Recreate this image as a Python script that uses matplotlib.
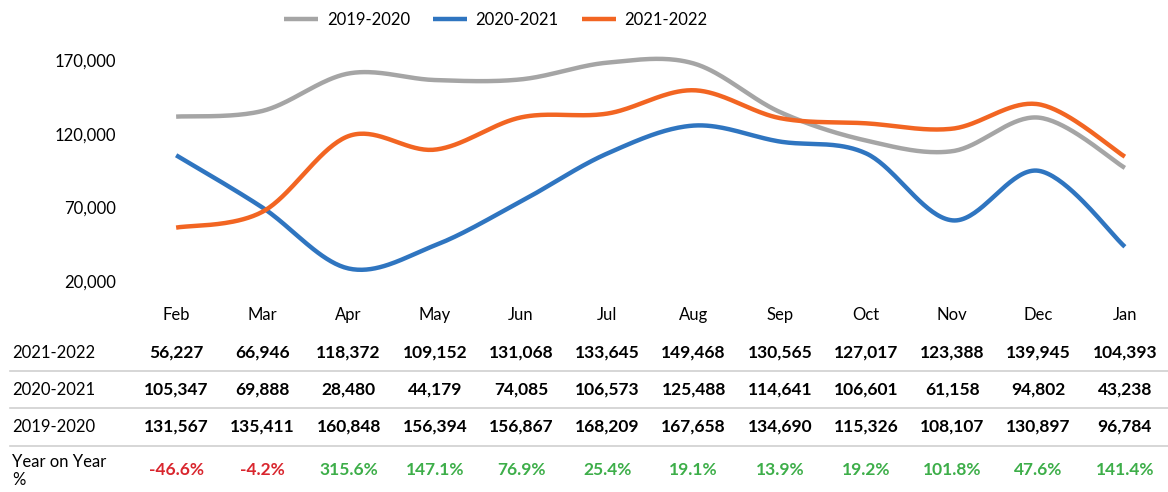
import numpy as np
import matplotlib
matplotlib.use("Agg")
import matplotlib.pyplot as plt

plt.rcParams['font.family'] = ['Lato', 'DejaVu Sans']

months = ["Feb", "Mar", "Apr", "May", "Jun", "Jul", "Aug", "Sep", "Oct", "Nov", "Dec", "Jan"]
s_1920 = [131567, 135411, 160848, 156394, 156867, 168209, 167658, 134690, 115326, 108107, 130897, 96784]
s_2021 = [105347, 69888, 28480, 44179, 74085, 106573, 125488, 114641, 106601, 61158, 94802, 43238]
s_2122 = [56227, 66946, 118372, 109152, 131068, 133645, 149468, 130565, 127017, 123388, 139945, 104393]
yoy = [-46.6, -4.2, 315.6, 147.1, 76.9, 25.4, 19.1, 13.9, 19.2, 101.8, 47.6, 141.4]

series = [("2019-2020", s_1920, "#A5A5A5"),
          ("2020-2021", s_2021, "#2F75C0"),
          ("2021-2022", s_2122, "#F26522")]


def smooth(y, n=40):
    # catmull-rom style smoothing like excel's smoothed line
    y = np.asarray(y, dtype=float)
    x = np.arange(len(y), dtype=float)
    px = np.concatenate([[x[0]], x, [x[-1]]])
    py = np.concatenate([[y[0]], y, [y[-1]]])
    xs, ys = [], []
    for i in range(1, len(px) - 2):
        p0, p1, p2, p3 = [np.array([px[j], py[j]]) for j in (i - 1, i, i + 1, i + 2)]
        c1 = p1 + (p2 - p0) / 6.0
        c2 = p2 - (p3 - p1) / 6.0
        t = np.linspace(0, 1, n)[:, None]
        b = ((1 - t) ** 3) * p1 + 3 * ((1 - t) ** 2) * t * c1 + 3 * (1 - t) * t ** 2 * c2 + t ** 3 * p2
        xs.append(b[:, 0])
        ys.append(b[:, 1])
    return np.concatenate(xs), np.concatenate(ys)


fig = plt.figure(figsize=(11.68, 4.92), dpi=100)
ax = fig.add_axes([133 / 1168, 1 - 281 / 492, 1035 / 1168, 221 / 492])

for name, vals, col in series:
    sx, sy = smooth(vals)
    ax.plot(sx, sy, color=col, lw=3.2, label=name, clip_on=False, solid_capstyle='butt')

ax.set_xlim(-0.5, 11.5)
ax.set_ylim(20000, 170000)
ax.set_yticks([20000, 70000, 120000, 170000])
ax.set_yticklabels([f"{v:,}" for v in [20000, 70000, 120000, 170000]], fontsize=12)
ax.tick_params(axis='y', length=0, pad=12)
ax.set_xticks([])
for s in ax.spines.values():
    s.set_visible(False)

ax.legend(loc='center', bbox_to_anchor=((496 - 133) / 1035, 1 + (60 - 20) / 221),
          ncol=3, frameon=False, fontsize=12, handlelength=2.05, columnspacing=1.4, handletextpad=0.5)


def fy(py):
    return 1 - py / 492


for i, m in enumerate(months):
    fig.text((133 + 86.25 * (i + 0.5)) / 1168, fy(315), m, ha='center', va='center', fontsize=12)

rows = [("2021-2022", s_2122, 353), ("2020-2021", s_2021, 390), ("2019-2020", s_1920, 427)]
for label, vals, py in rows:
    fig.text(12 / 1168, fy(py), label, ha='left', va='center', fontsize=12)
    for i, v in enumerate(vals):
        fig.text((133 + 86.25 * (i + 0.5)) / 1168, fy(py), f"{v:,}", ha='center', va='center',
                 fontsize=12.5, fontweight='bold')

fig.text(12 / 1168, fy(471), "Year on Year\n%", ha='left', va='center', fontsize=12, linespacing=1.15)
for i, v in enumerate(yoy):
    col = "#D9262E" if v < 0 else "#3DAE49"
    fig.text((133 + 86.25 * (i + 0.5)) / 1168, fy(470), f"{v:.1f}%", ha='center', va='center',
             fontsize=12.5, fontweight='bold', color=col)

for py in (371, 408, 446):
    fig.add_artist(plt.Line2D([10 / 1168, 1], [fy(py), fy(py)], color="#D0D0D0", lw=1.2))

fig.savefig("out.png", dpi=100)
